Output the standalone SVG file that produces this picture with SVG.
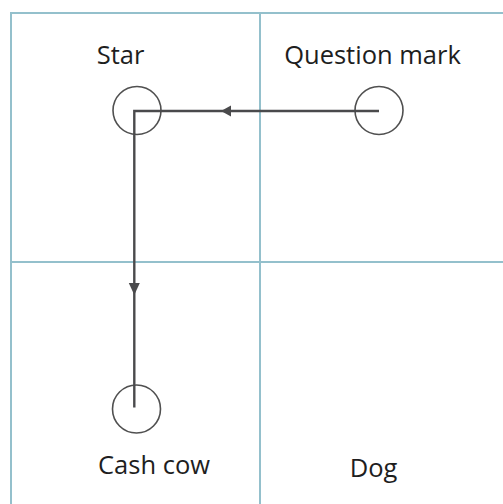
<svg xmlns="http://www.w3.org/2000/svg" width="503" height="504" viewBox="0 0 503 504">
<style>
.grid{fill:none;stroke:#94c0cc;stroke-width:2}
.node{fill:none;stroke:#505050;stroke-width:1.6}
.lbl{font-family:"Open Sans","Liberation Sans",sans-serif;font-size:25.5px;fill:#1e1e1e;text-anchor:middle}
.edge{fill:none;stroke:#4a4a4c;stroke-width:2.4}
.arr{fill:#4a4a4c;stroke:none}
</style>
<rect width="503" height="504" fill="#ffffff"/>
<g id="grid">
<rect class="grid" x="11" y="13" width="520" height="520"/>
<line class="grid" x1="260" y1="13" x2="260" y2="504"/>
<line class="grid" x1="11" y1="262" x2="503" y2="262"/>
</g>
<g id="star">
<circle class="node" cx="137" cy="110.5" r="24"/>
<text class="lbl" x="120.5" y="63.5">Star</text>
</g>
<g id="question-mark">
<circle class="node" cx="379" cy="110.5" r="24"/>
<text class="lbl" x="372.5" y="63.5">Question mark</text>
</g>
<g id="cash-cow">
<circle class="node" cx="136.5" cy="409" r="24"/>
<text class="lbl" x="154" y="473.5">Cash cow</text>
</g>
<g id="dog">
<text class="lbl" x="373.5" y="476.5">Dog</text>
</g>
<g id="connectors">
<polyline class="edge" points="379,111 134.3,111 134.3,407.5"/>
<polygon class="arr" points="221,111 231,105.5 231,116.5"/>
<polygon class="arr" points="134.3,295 128.8,283 139.8,283"/>
</g>
</svg>
